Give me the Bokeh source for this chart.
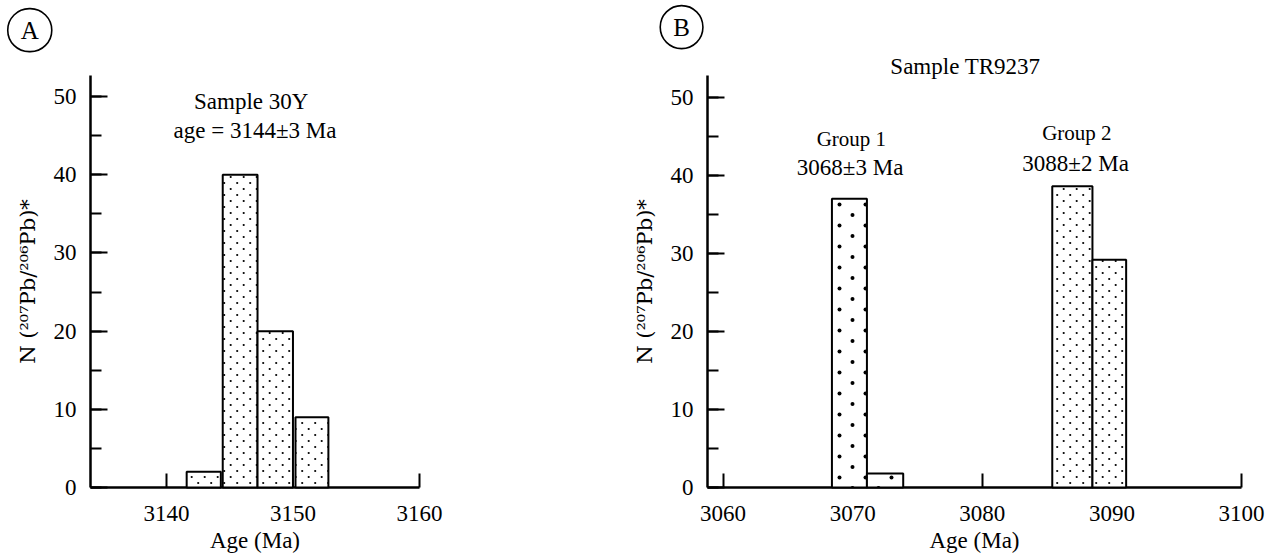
import base64
from bokeh.plotting import figure
from bokeh.layouts import row
from bokeh.models import (Range1d, SingleIntervalTicker, FixedTicker, Label,
                          ColumnDataSource, ImageURLTexture)
from bokeh.core.properties import value
from bokeh.embed import file_html
from bokeh.resources import INLINE

# ---------------- data ----------------
# Panel A: Sample 30Y
a_left = [3141.6, 3144.45, 3147.2, 3150.2]
a_right = [3144.3, 3147.2, 3150.0, 3152.8]
a_count = [2, 40, 20, 9]
a_xticks = [3140, 3150, 3160]

# Panel B: Sample TR9237
g1_left = [3068.4, 3071.1]
g1_right = [3071.1, 3073.9]
g1_count = [37, 1.8]
g2_left = [3085.4, 3088.5]
g2_right = [3088.5, 3091.1]
g2_count = [38.6, 29.2]
b_xticks = [3060, 3070, 3080, 3090, 3100]

FONT = "Liberation Serif"
YLABEL = "N (\u00b2\u2070\u2077Pb/\u00b2\u2070\u2076Pb)*"
H = 556          # figure height (px)
FRAME_H = 412    # height of the axis box
BOTTOM = 69      # space below the x axis


def tile(w, h, dots, r):
    circles = "".join(f'<circle cx="{x}" cy="{y}" r="{r}" fill="black"/>' for x, y in dots)
    svg = (f'<svg xmlns="http://www.w3.org/2000/svg" width="{w}" height="{h}">'
           f'<rect width="{w}" height="{h}" fill="white"/>{circles}</svg>')
    return "data:image/svg+xml;base64," + base64.b64encode(svg.encode()).decode()


DENSE = ImageURLTexture(url=tile(13, 12, [(3.2, 3), (9.7, 9)], 1.1))
SPARSE = ImageURLTexture(url=tile(26, 21, [(6.5, 5), (19.5, 15.5)], 2.0))


def panel(width, axis_px, frame_w, xmin, xmax, ymax, xticks):
    kx = frame_w / (xmax - xmin)
    ky = FRAME_H / ymax
    x0 = xmin - axis_px / kx
    x1 = xmin + (width - axis_px) / kx
    y0 = -BOTTOM / ky
    y1 = (H - BOTTOM) / ky
    p = figure(frame_width=width, frame_height=H,
               x_range=Range1d(x0, x1), y_range=Range1d(y0, y1),
               output_backend="svg", toolbar_location=None, min_border=0)
    p.outline_line_color = None
    p.xgrid.visible = False
    p.ygrid.visible = False
    p.background_fill_color = "white"
    p.border_fill_color = "white"
    for ax in (p.xaxis[0], p.yaxis[0]):
        ax.axis_line_color = "black"
        ax.axis_line_width = 2.5
        ax.major_tick_line_color = "black"
        ax.major_tick_line_width = 2
        ax.minor_tick_line_color = "black"
        ax.minor_tick_line_width = 2
        ax.major_tick_out = 0
        ax.minor_tick_out = 0
        ax.major_label_text_font = FONT
        ax.major_label_text_font_size = "23px"
        ax.major_label_text_color = "black"
        ax.axis_label_text_font = FONT
        ax.axis_label_text_font_size = "23px"
        ax.axis_label_text_font_style = "normal"
        ax.axis_label_text_color = "black"
    ya = p.yaxis[0]
    ya.fixed_location = xmin
    ya.bounds = (0, ymax)
    ya.ticker = SingleIntervalTicker(interval=10, num_minor_ticks=2)
    ya.major_tick_in = 17
    ya.minor_tick_in = 11
    ya.major_label_standoff = 14
    ya.axis_label = YLABEL
    ya.axis_label_text_font = "DejaVu Serif"
    ya.axis_label_text_font_size = "21px"
    ya.axis_label_standoff = 11
    xa = p.xaxis[0]
    xa.fixed_location = 0
    xa.bounds = (xmin, xmax)
    xa.ticker = FixedTicker(ticks=xticks, minor_ticks=[])
    xa.major_tick_in = 14
    xa.minor_tick_in = 0
    xa.major_label_standoff = 18
    xa.axis_label = "Age (Ma)"
    xa.axis_label_standoff = 4
    return p


def bars(p, left, right, top, texture):
    src = ColumnDataSource(dict(left=left, right=right, top=top, bottom=[0] * len(top)))
    r = p.quad(left="left", right="right", top="top", bottom="bottom", source=src,
               fill_color="white", line_color="black", line_width=2,
               hatch_pattern=value("tex"), hatch_extra={"tex": texture})
    r.level = "overlay"
    return r


def note(p, x, y, text, size="23px", circle=False):
    kw = {}
    if circle:
        kw = dict(border_line_color="black", border_line_width=1.6,
                  border_radius=30,
                  padding=dict(left=13, right=13, top=8, bottom=8))
    lab = Label(x=x, y=y, text=text, text_font=FONT, text_font_size=size,
                text_align="center", text_baseline="middle", text_color="black", **kw)
    p.add_layout(lab)


# ---------------- panel A ----------------
pA = panel(560, 90, 329, 3134, 3160, 52.7, a_xticks)
bars(pA, a_left, a_right, a_count, DENSE)
note(pA, 3146.7, 49.4, "Sample 30Y")
note(pA, 3147.0, 45.7, "age = 3144\u00b13 Ma")
note(pA, 3129.2, 58.5, "A", size="25px", circle=True)

# ---------------- panel B ----------------
pB = panel(711, 147, 534, 3058.8, 3100, 52.8, b_xticks)
bars(pB, g1_left, g1_right, g1_count, SPARSE)
bars(pB, g2_left, g2_right, g2_count, DENSE)
note(pB, 3078.7, 54.0, "Sample TR9237")
note(pB, 3069.9, 44.6, "Group 1", size="21px")
note(pB, 3069.8, 41.0, "3068\u00b13 Ma")
note(pB, 3087.3, 45.4, "Group 2", size="21px")
note(pB, 3087.2, 41.5, "3088\u00b12 Ma")
note(pB, 3056.8, 59.0, "B", size="25px", circle=True)

layout = row(pA, pB)
open("out.html", "w").write(file_html(layout, INLINE))
